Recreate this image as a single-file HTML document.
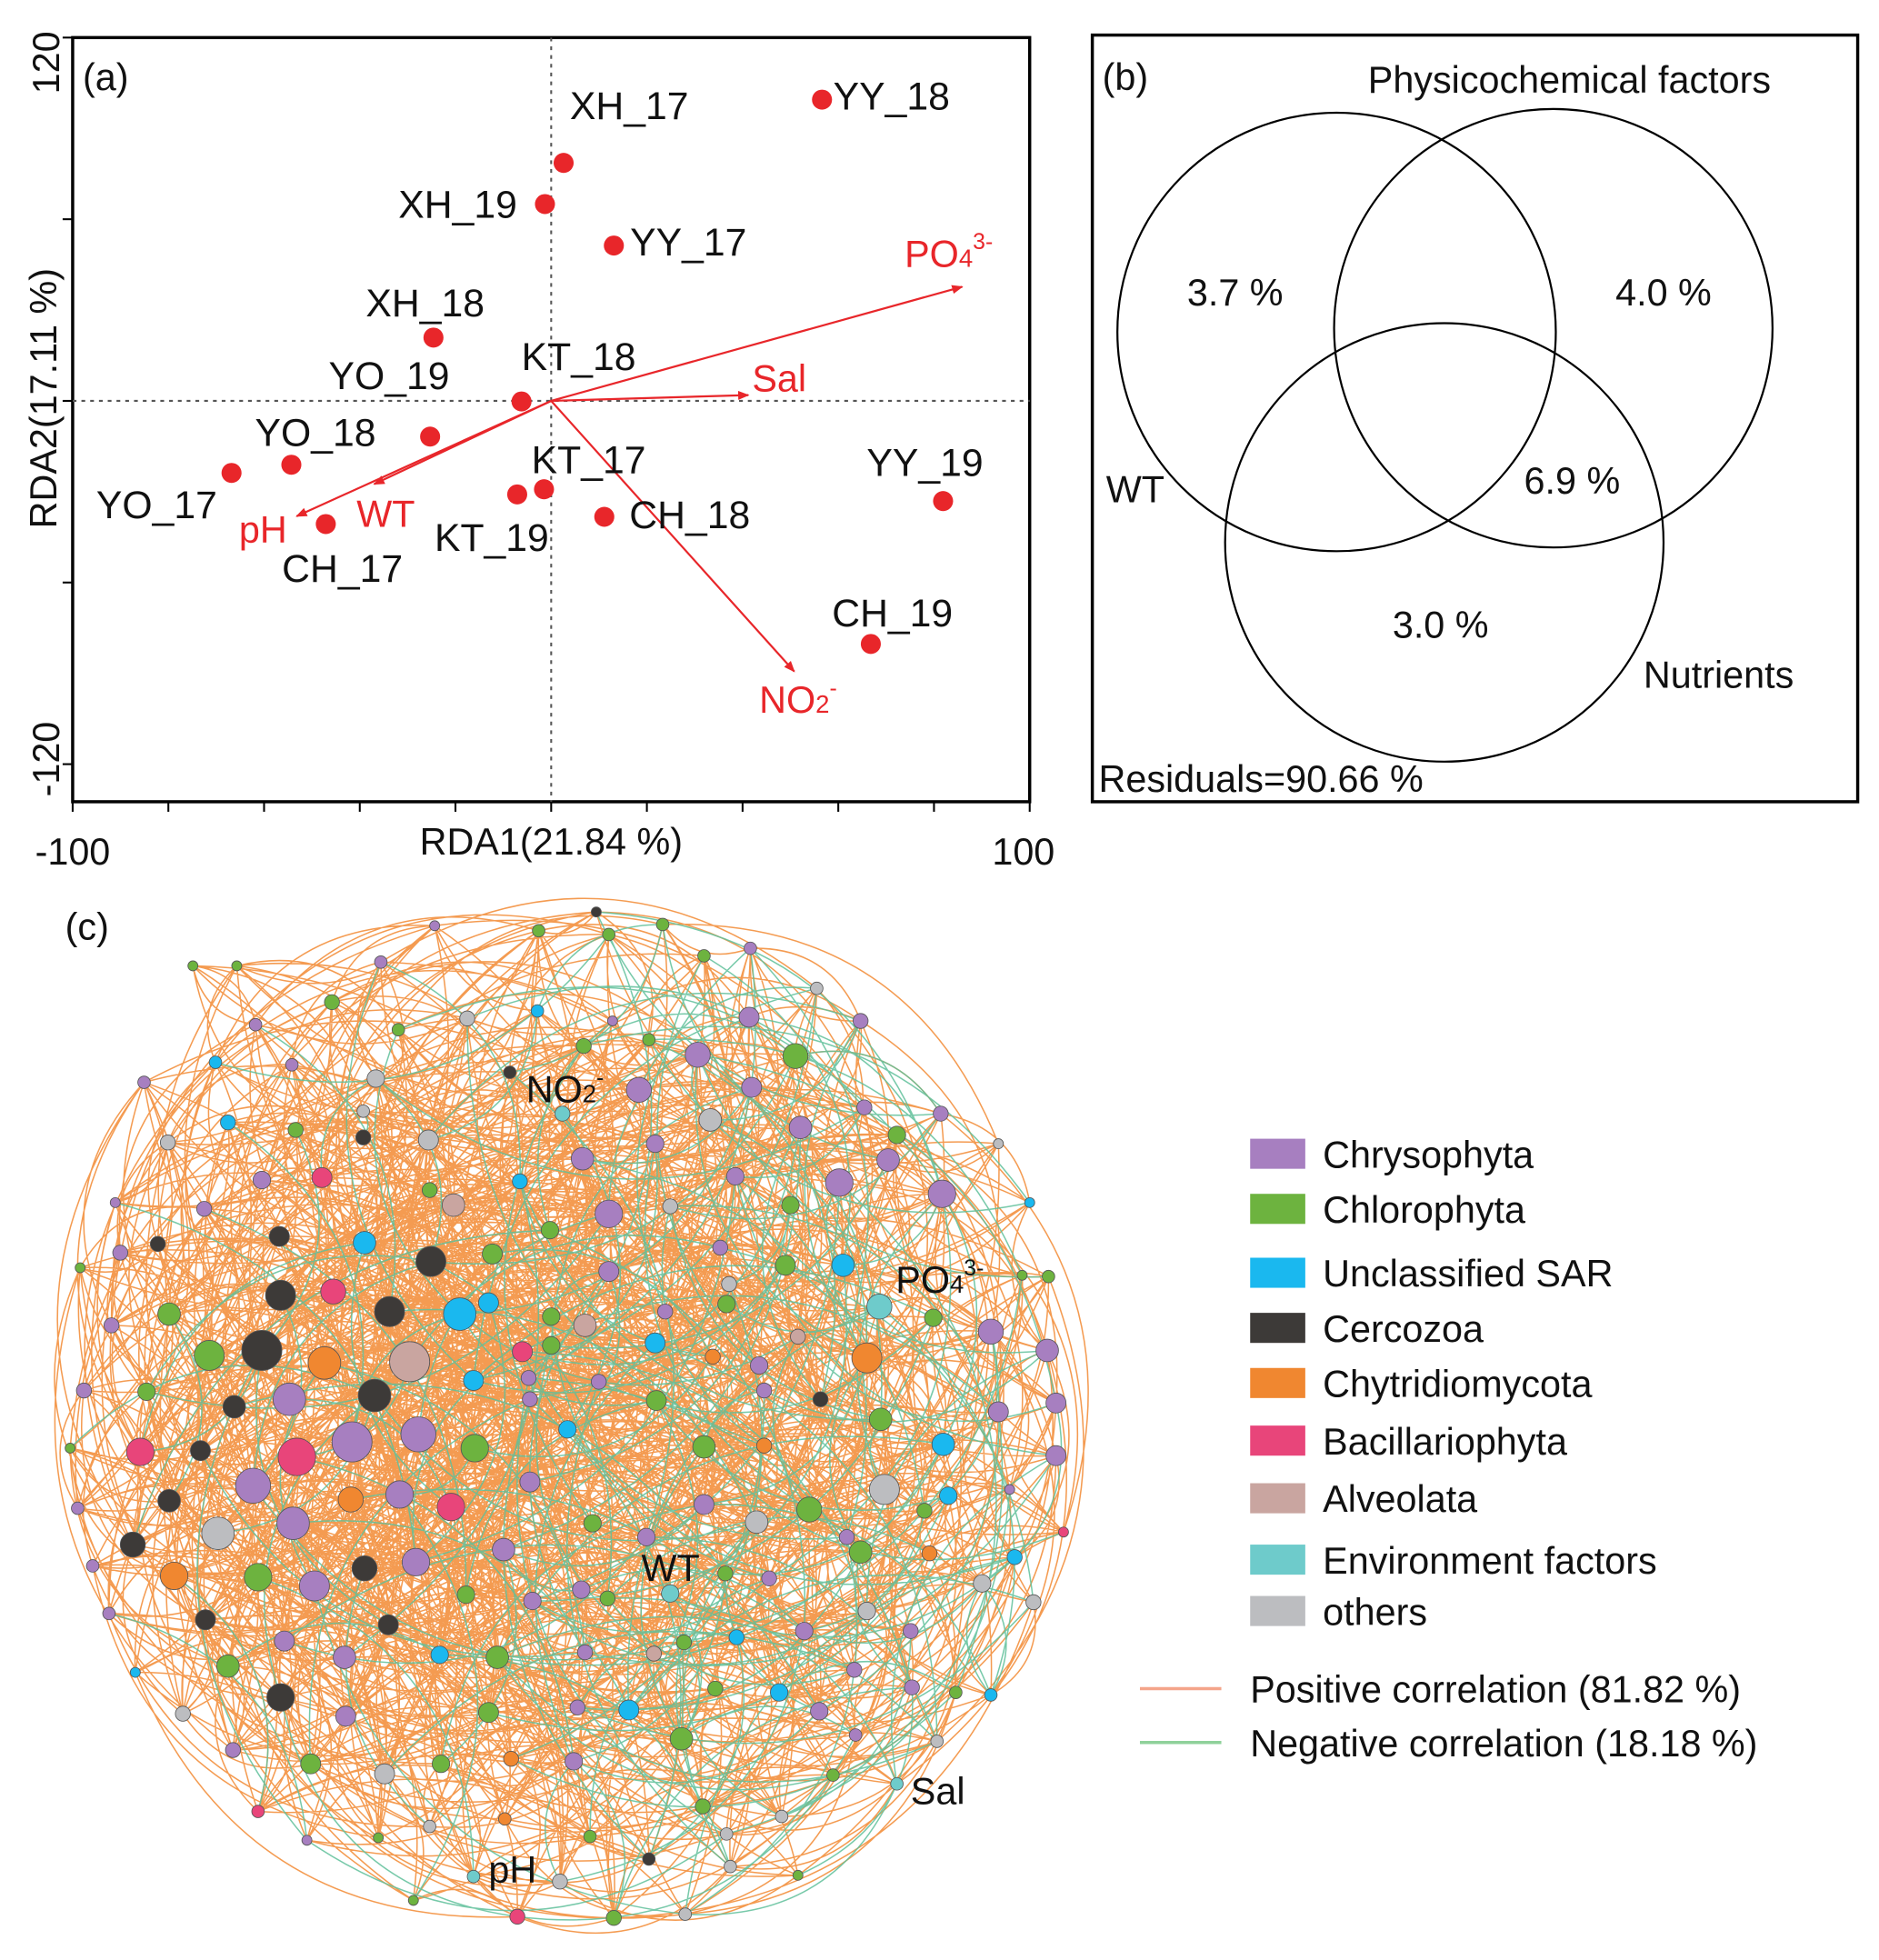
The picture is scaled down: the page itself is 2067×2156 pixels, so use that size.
<!DOCTYPE html>
<html><head><meta charset="utf-8"><style>
html,body{margin:0;padding:0;background:#fff;}
svg{display:block;font-family:"Liberation Sans",Arial,sans-serif;}
</style></head><body>
<svg id="fig" width="2067" height="2156" viewBox="0 0 1500 1564.6" xmlns="http://www.w3.org/2000/svg">
<defs>
<marker id="ah" viewBox="0 0 10 10" refX="9" refY="5" markerWidth="9" markerHeight="9" markerUnits="userSpaceOnUse" orient="auto"><path d="M0,1 L10,5 L0,9 z" fill="#e8262a"/></marker>
</defs>
<g id="panelA"></g>
<g id="panelB"></g>
<g id="panelC"></g>
<g id="legendC"></g>
</svg>
<script>
// ---------- Panel (a) data ----------
const sampleNames = ["YY_18","XH_17","XH_19","YY_17","XH_18","KT_18","YO_19","YO_18","YO_17","CH_17","KT_19","KT_17","CH_18","YY_19","CH_19"];
const sampleRDA1 = [56.6,2.6,-1.3,13.1,-24.6,-6.2,-25.3,-54.3,-66.8,-47.1,-7.1,-1.5,11.1,81.9,66.8];
const sampleRDA2 = [99.5,78.6,65.0,51.3,20.9,-0.2,-11.8,-21.1,-23.8,-40.7,-30.9,-29.2,-38.3,-33.1,-80.3];
const envNames = ["PO4","Sal","NO2","WT","pH"];
const envRDA1 = [85.9,41.2,50.8,-37.0,-53.2];
const envRDA2 = [37.7,1.9,-89.4,-27.5,-38.1];
const xTickLabels = ["-100","100"];
const yTickLabels = ["120","-120"];
// label offsets (layout)
const sampleLabelOff = [[9,8],[5,-35],[-117,11],[13,8],[-54,-17],[0,-25],[-81,-38],[-29,-15],[-108,36],[-35,46],[-66,45],[-10,-13],[20,9],[-61,-20],[-31,-14]];
const envLabelOff = [[-46,-16],[3,-3],[-28,33],[-14,34],[-46,21]];

const NS="http://www.w3.org/2000/svg";
function mk(tag, attrs, parent){const e=document.createElementNS(NS,tag);for(const k in attrs)e.setAttribute(k,attrs[k]);parent.appendChild(e);return e;}

const A=document.getElementById('panelA');
const ax={x0:58,x1:822,yTop:30,yBot:640};
const xs=v=>440+v*3.82;
const ys=v=>320-v*(290/120);
let e;
e=mk('rect',{x:ax.x0,y:ax.yTop,width:ax.x1-ax.x0,height:ax.yBot-ax.yTop,fill:'none',stroke:'#000','stroke-width':2.5},A);

e=mk('line',{x1:xs(0),x2:xs(0),y1:ax.yTop,y2:ax.yBot,stroke:'#555','stroke-width':1.5,'stroke-dasharray':'3,4'},A);

e=mk('line',{x1:ax.x0,x2:ax.x1,y1:ys(0),y2:ys(0),stroke:'#555','stroke-width':1.5,'stroke-dasharray':'3,4'},A);

for(let v=-100;v<=100;v+=20){const t=mk('line',{x1:xs(v),x2:xs(v),y1:ax.yBot,y2:ax.yBot+8,stroke:'#000','stroke-width':1.5},A);}
for(let v=-120;v<=120;v+=60){const t=mk('line',{x1:ax.x0-8,x2:ax.x0,y1:ys(v),y2:ys(v),stroke:'#000','stroke-width':1.5},A);}
function txt(p,x,y,s,size,fill,extra){const t=mk('text',Object.assign({x:x,y:y,'font-size':size,fill:fill||'#111'},extra||{}),p);t.textContent=s;return t;}
e=txt(A,xs(-100),690,xTickLabels[0],30,'#111',{'text-anchor':'middle'});
e=txt(A,xs(100)-5,690,xTickLabels[1],30,'#111',{'text-anchor':'middle'});
e=txt(A,440,682,'RDA1(21.84 %)',30,'#111',{'text-anchor':'middle'});
e=txt(A,0,0,yTickLabels[0],30,'#111',{'text-anchor':'middle',transform:`translate(47,${ys(120)+20}) rotate(-90)`});
e=txt(A,0,0,yTickLabels[1],30,'#111',{'text-anchor':'middle',transform:`translate(47,${ys(-120)-4}) rotate(-90)`});
e=txt(A,0,0,'RDA2(17.11 %)',30,'#111',{'text-anchor':'middle',transform:'translate(45,318) rotate(-90)'});
e=txt(A,66,72,'(a)',30,'#111');

for(let i=0;i<envNames.length;i++){
  const l=mk('line',{x1:xs(0),y1:ys(0),x2:xs(envRDA1[i]),y2:ys(envRDA2[i]),stroke:'#e8262a','stroke-width':1.6,'marker-end':'url(#ah)'},A);
  
  const t=mk('text',{x:xs(envRDA1[i])+envLabelOff[i][0],y:ys(envRDA2[i])+envLabelOff[i][1],'font-size':30,fill:'#e8262a'},A);
  
  if(envNames[i]==='PO4'){t.innerHTML='PO<tspan font-size="20">4</tspan><tspan font-size="18" dy="-14">3-</tspan>';}
  else if(envNames[i]==='NO2'){t.innerHTML='NO<tspan font-size="20">2</tspan><tspan font-size="18" dy="-14">-</tspan>';}
  else t.textContent=envNames[i];
}
for(let i=0;i<sampleNames.length;i++){
  const c=mk('circle',{cx:xs(sampleRDA1[i]),cy:ys(sampleRDA2[i]),r:8,fill:'#e8262a'},A);
  
  const t=txt(A,xs(sampleRDA1[i])+sampleLabelOff[i][0],ys(sampleRDA2[i])+sampleLabelOff[i][1],sampleNames[i],31,'#111');
  
}

// ---------- Panel (b) ----------
const vennValues=["3.7 %","4.0 %","6.9 %","3.0 %"];
const B=document.getElementById('panelB');
e=mk('rect',{x:872,y:28,width:611,height:612,fill:'none',stroke:'#000','stroke-width':2.5},B);

[[1067,265,'venn-circle-wt'],[1240,262,'venn-circle-physicochemical'],[1153,433,'venn-circle-nutrients']].forEach(c=>{
  const el=mk('circle',{cx:c[0],cy:c[1],r:175,fill:'none',stroke:'#000','stroke-width':1.6},B);
  
});
const vennPos=[[986,244],[1328,244],[1255,394],[1150,509]];
vennValues.forEach((v,i)=>{const t=txt(B,vennPos[i][0],vennPos[i][1],v,30,'#111',{'text-anchor':'middle'});});
e=txt(B,880,72,'(b)',30);
e=txt(B,1092,74,'Physicochemical factors',30);
e=txt(B,883,401,'WT',30);
e=txt(B,1312,549,'Nutrients',30);
e=txt(B,877,632,'Residuals=90.66 %',30);

// ---------- Panel (c) network ----------
const groupNames=["Chrysophyta","Chlorophyta","Unclassified SAR","Cercozoa","Chytridiomycota","Bacillariophyta","Alveolata","Environment factors","others"];
const groupColors=["#a77fc0","#6db33f","#1ab8ef","#3d3a38","#f08730","#e8457a","#c9a5a0","#6ecbcb","#bcbdc0"];
const nodes=[[209,1078,16,3],[167,1082,12,1],[231,1117,13,0],[259,1088,13,4],[281,1151,16,0],[299,1114,13,3],[327,1087,16,6],[334,1145,14,0],[237,1163,15,5],[202,1186,14,0],[234,1216,13,0],[174,1224,13,8],[206,1259,11,1],[251,1266,12,0],[291,1252,10,3],[332,1247,11,0],[360,1203,11,5],[319,1193,11,0],[280,1197,10,4],[139,1258,11,4],[106,1233,10,3],[135,1198,9,3],[112,1159,11,5],[160,1158,8,3],[187,1123,9,3],[224,1034,12,3],[266,1031,10,5],[311,1047,12,3],[367,1049,13,2],[344,1007,12,3],[362,962,9,6],[257,940,8,5],[223,987,8,3],[135,1049,9,1],[126,993,6,3],[379,1156,11,1],[402,1237,9,0],[417,1079,8,5],[467,1058,9,6],[486,969,11,0],[465,925,9,0],[510,870,10,0],[557,842,10,0],[635,843,10,1],[567,894,9,8],[598,812,8,0],[639,900,9,0],[670,944,11,0],[709,926,9,0],[752,953,11,0],[631,962,7,1],[673,1010,9,2],[702,1043,10,7],[745,1052,7,1],[791,1063,10,0],[836,1078,9,0],[692,1084,12,4],[703,1133,9,1],[753,1153,9,2],[797,1127,8,0],[843,1120,8,0],[843,1162,8,0],[757,1194,7,2],[706,1189,12,8],[646,1205,10,1],[604,1215,9,8],[562,1201,8,0],[562,1155,9,1],[524,1118,8,1],[453,1141,7,2],[523,1072,8,2],[486,1015,8,0],[580,1041,7,1],[627,1010,8,1],[687,1239,9,1],[742,1240,6,4],[784,1264,7,8],[610,1110,6,0],[655,1117,6,3],[610,1154,6,4],[637,1067,6,6],[569,1083,6,4],[531,1047,6,0],[478,1103,6,0],[422,1100,6,0],[378,1102,8,2],[291,992,9,2],[415,943,6,2],[439,982,7,1],[393,1001,8,1],[343,950,6,1],[300,861,7,8],[342,910,8,8],[290,908,6,3],[236,902,6,1],[209,942,7,0],[182,896,6,2],[134,912,6,8],[163,965,6,0],[96,1000,6,0],[89,1058,6,0],[117,1111,7,1],[67,1110,6,0],[56,1156,4,1],[62,1204,5,0],[74,1250,5,0],[87,1288,5,0],[108,1335,4,2],[146,1368,6,8],[182,1330,9,1],[164,1293,8,3],[224,1355,11,3],[227,1310,8,0],[275,1323,9,0],[310,1297,8,3],[276,1370,8,0],[248,1408,8,1],[307,1416,8,8],[352,1408,7,1],[390,1367,8,1],[397,1323,9,1],[351,1321,7,2],[372,1273,7,1],[425,1278,7,0],[464,1269,7,0],[485,1276,6,1],[516,1227,7,0],[535,1272,7,7],[579,1256,6,1],[614,1260,6,0],[642,1302,7,0],[692,1286,7,8],[588,1307,6,2],[546,1311,6,1],[522,1320,6,6],[467,1319,6,0],[502,1365,8,2],[544,1388,9,1],[571,1348,6,1],[622,1351,7,2],[654,1366,7,0],[682,1333,6,0],[728,1347,6,0],[763,1351,5,1],[791,1353,5,2],[683,1385,5,0],[748,1390,5,8],[716,1424,5,7],[665,1417,5,1],[624,1450,5,8],[580,1464,5,8],[561,1442,6,1],[518,1484,5,3],[471,1466,5,1],[447,1502,6,8],[413,1530,6,5],[378,1498,5,7],[330,1517,4,1],[343,1458,5,8],[403,1452,5,4],[458,1406,7,0],[408,1404,6,4],[461,1363,6,0],[302,1467,4,1],[245,1469,4,0],[206,1446,5,5],[186,1397,6,0],[547,1528,5,8],[490,1531,6,1],[583,1490,5,8],[637,1497,4,1],[810,1243,6,2],[825,1279,6,8],[849,1223,4,5],[806,1189,4,0],[816,1018,4,1],[837,1019,5,1],[822,960,4,2],[797,913,4,8],[751,889,6,0],[716,906,7,1],[690,884,6,0],[687,815,6,0],[652,789,5,8],[599,757,5,0],[562,763,5,1],[529,738,5,1],[476,728,4,3],[486,746,5,1],[430,743,5,1],[347,739,4,0],[304,768,5,0],[265,800,6,1],[204,818,5,0],[189,771,4,1],[154,771,4,1],[115,864,5,0],[92,960,4,0],[64,1012,4,1],[373,813,6,8],[318,822,5,1],[233,850,5,0],[172,848,5,2],[290,887,5,8],[407,856,5,3],[449,889,6,7],[429,807,5,2],[466,835,6,1],[489,815,4,0],[518,830,5,1],[523,913,7,0],[587,939,7,0],[600,868,8,0],[535,963,6,8],[440,1074,7,1],[390,1040,8,2],[423,1117,6,0],[473,1216,7,1],[423,1183,8,0],[440,1051,7,1],[575,996,6,0],[606,1090,7,0],[582,1025,6,8],[676,1227,6,0],[738,1206,6,1],[727,1302,6,0]];
const envNodeLabels=[["NO",2,"-",420,880],["PO",4,"3-",715,1032],["WT","","",512,1262],["Sal","","",727,1440],["pH","","",390,1503]];

const C=document.getElementById('panelC');
e=txt(C,52,750,'(c)',30);
// edges (deterministic index-based topology)
const N=nodes.length;let dPos='',dNeg='';let cnt=0;
for(let i=0;i<N;i++){
  const deg=Math.round(nodes[i][2]*1.1);let made=0;
  for(let k=1;k<60&&made<deg;k++){
    const j=(i*31+k*17+k*k*7)%N;if(j===i)continue;
    const a=nodes[i],b=nodes[j];const dx=b[0]-a[0],dy=b[1]-a[1];const d=Math.hypot(dx,dy);
    if(d>420||d<15)continue;
    made++;cnt++;
    const sgn=((i+j)%2)?1:-1;const off=0.35*sgn;
    const cx=(a[0]+b[0])/2-dy*off,cy=(a[1]+b[1])/2+dx*off;
    const seg=`M${a[0]},${a[1]}Q${cx.toFixed(1)},${cy.toFixed(1)} ${b[0]},${b[1]}`;
    const right=(a[0]+b[0])/2>450;
    if((right&&cnt%5===0)||(!right&&cnt%17===0))dNeg+=seg;else dPos+=seg;
  }
}
e=mk('path',{d:dPos,fill:'none',stroke:'#f28a32','stroke-width':1.1,'stroke-opacity':0.85},C);

e=mk('path',{d:dNeg,fill:'none',stroke:'#5fbf9a','stroke-width':1.1,'stroke-opacity':0.85},C);

for(const n of nodes){
  const c=mk('circle',{cx:n[0],cy:n[1],r:n[2],fill:groupColors[n[3]],stroke:'#555','stroke-width':0.6},C);
  
  
}
for(const L of envNodeLabels){
  const t=mk('text',{x:L[3],y:L[4],'font-size':30,fill:'#111'},C);
  
  t.innerHTML=L[0]+(L[1]!==''?`<tspan font-size="20">${L[1]}</tspan><tspan font-size="18" dy="-14">${L[2]}</tspan>`:'');
}
// legend
const LG=document.getElementById('legendC');
const legendY=[921,965,1016,1060,1104,1150,1196,1245,1286];
groupNames.forEach((g,i)=>{
  const r=mk('rect',{x:998,y:legendY[i]-12,width:44,height:24,fill:groupColors[i]},LG);
  
  const t=txt(LG,1056,legendY[i]+11,g,30,'#111');
  
});
const corrLabels=["Positive correlation (81.82 %)","Negative correlation (18.18 %)"];
const corrColors=["#f4a58a","#8fd19a"];const corrY=[1348,1391];
corrLabels.forEach((s,i)=>{
  const l=mk('line',{x1:910,x2:975,y1:corrY[i],y2:corrY[i],stroke:corrColors[i],'stroke-width':2.5},LG);
  
  const t=txt(LG,998,corrY[i]+11,s,30,'#111');
  
});
</script>
</body></html>
